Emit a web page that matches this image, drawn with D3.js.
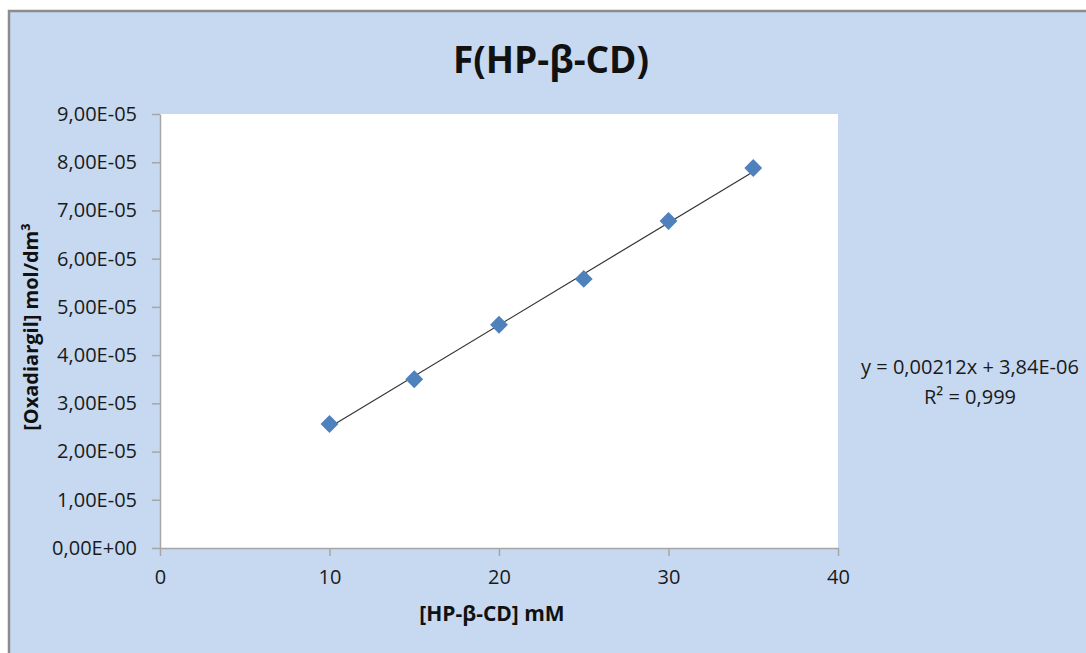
<!DOCTYPE html>
<html>
<head>
<meta charset="utf-8">
<script src="https://cdn.jsdelivr.net/npm/d3@7"></script>
<style>
  body { margin: 0; background: #fff; }
  svg { display: block; font-family: "Open Sans", "Noto Sans", sans-serif; }
</style>
</head>
<body>
<svg id="chart" width="1086" height="653"></svg>
<script>
// Data
const concentrations = [10, 15, 20, 25, 30, 35];
const oxadiargil = [2.57e-5, 3.5e-5, 4.63e-5, 5.58e-5, 6.78e-5, 7.88e-5];
const xTicks = [0, 10, 20, 30, 40];
const yTicks = [0, 1e-5, 2e-5, 3e-5, 4e-5, 5e-5, 6e-5, 7e-5, 8e-5, 9e-5];
const trendSlope = 2.12e-6;
const trendIntercept = 3.84e-6;
const equationLines = ["y = 0,00212x + 3,84E-06", "R² = 0,999"];

const svg = d3.select("#chart");

const dimensions = {
  width: 1086,
  height: 653,
  margin: { top: 114, right: 248, bottom: 105, left: 160 },
};
dimensions.boundedWidth =
  dimensions.width - dimensions.margin.left - dimensions.margin.right;
dimensions.boundedHeight =
  dimensions.height - dimensions.margin.top - dimensions.margin.bottom;

// chart area background + frame
svg
  .append("rect")
  .attr("x", 9)
  .attr("y", 11)
  .attr("width", 1100)
  .attr("height", 700)
  .attr("fill", "#C6D9F0")
  .attr("stroke", "#8c8c8c")
  .attr("stroke-width", 2.5);

const bound = svg
  .append("g")
  .attr(
    "transform",
    `translate(${dimensions.margin.left}, ${dimensions.margin.top})`
  );

bound
  .append("rect")
  .attr("width", dimensions.boundedWidth)
  .attr("height", dimensions.boundedHeight)
  .attr("fill", "#fff");

// Scales
const xScale = d3.scaleLinear([0, 40], [0, dimensions.boundedWidth]);
const yScale = d3.scaleLinear([0, 9e-5], [dimensions.boundedHeight, 0]);

const yFormat = (d) =>
  d === 0
    ? "0,00E+00"
    : d3.format(".2e")(d).replace(".", ",").replace(/e-(\d)$/, "E-0$1");

// Axes
const xAxis = d3
  .axisBottom(xScale)
  .tickValues(xTicks)
  .tickFormat(d3.format(".0f"))
  .tickSize(8)
  .tickSizeOuter(0)
  .tickPadding(14);
const yAxis = d3
  .axisLeft(yScale)
  .tickValues(yTicks)
  .tickFormat(yFormat)
  .tickSize(8)
  .tickSizeOuter(0)
  .tickPadding(15);

const axisColor = "#a6a6a6";
const tickFont = "20px";

bound
  .append("g")
  .attr("transform", `translate(0, ${dimensions.boundedHeight})`)
  .call(xAxis)
  .call((g) => g.select(".domain").attr("stroke", axisColor).attr("stroke-width", 1.5))
  .call((g) => g.selectAll(".tick line").attr("stroke", axisColor).attr("stroke-width", 1.5))
  .call((g) =>
    g
      .selectAll(".tick text")
      .attr("fill", "#1a1a1a")
      .style("font-size", tickFont)
      .style("font-family", "'Open Sans', sans-serif")
  );

bound
  .append("g")
  .call(yAxis)
  .call((g) => g.select(".domain").attr("stroke", axisColor).attr("stroke-width", 1.5))
  .call((g) => g.selectAll(".tick line").attr("stroke", axisColor).attr("stroke-width", 1.5))
  .call((g) =>
    g
      .selectAll(".tick text")
      .attr("fill", "#1a1a1a")
      .style("font-size", tickFont)
      .style("font-family", "'Open Sans', sans-serif")
  );

// Trend line
const trend = d3
  .line()
  .x((d) => xScale(d))
  .y((d) => yScale(trendSlope * d + trendIntercept));

bound
  .append("path")
  .datum([d3.min(concentrations), d3.max(concentrations)])
  .attr("fill", "none")
  .attr("stroke", "#333")
  .attr("stroke-width", 1.2)
  .attr("d", trend);

// Markers
const diamond = d3.symbol().type(d3.symbolSquare).size(160);
bound
  .selectAll(".point")
  .data(d3.range(concentrations.length))
  .join("path")
  .attr("class", "point")
  .attr("d", diamond)
  .attr(
    "transform",
    (i) =>
      `translate(${xScale(concentrations[i])}, ${yScale(oxadiargil[i])}) rotate(45)`
  )
  .attr("fill", "#4F81BD");

// Title
svg
  .append("text")
  .attr("x", 551)
  .attr("y", 73)
  .attr("text-anchor", "middle")
  .style("font-size", "37px")
  .style("font-weight", 700)
  .attr("fill", "#111")
  .text("F(HP-β-CD)");

// Axis titles
svg
  .append("text")
  .attr("x", 492)
  .attr("y", 621)
  .attr("text-anchor", "middle")
  .style("font-size", "21px")
  .style("font-weight", 700)
  .attr("fill", "#111")
  .text("[HP-β-CD] mM");

svg
  .append("text")
  .attr("transform", `translate(38, ${dimensions.margin.top + dimensions.boundedHeight / 2 - 4}) rotate(-90)`)
  .attr("text-anchor", "middle")
  .style("font-size", "20px")
  .style("font-weight", 700)
  .attr("fill", "#111")
  .text("[Oxadiargil] mol/dm³");

// Equation label
svg
  .append("g")
  .selectAll("text")
  .data(equationLines)
  .join("text")
  .attr("x", 970)
  .attr("y", (_, i) => 374 + i * 30)
  .attr("text-anchor", "middle")
  .style("font-size", "20px")
  .attr("fill", "#1a1a1a")
  .text((d) => d);
</script>
</body>
</html>
